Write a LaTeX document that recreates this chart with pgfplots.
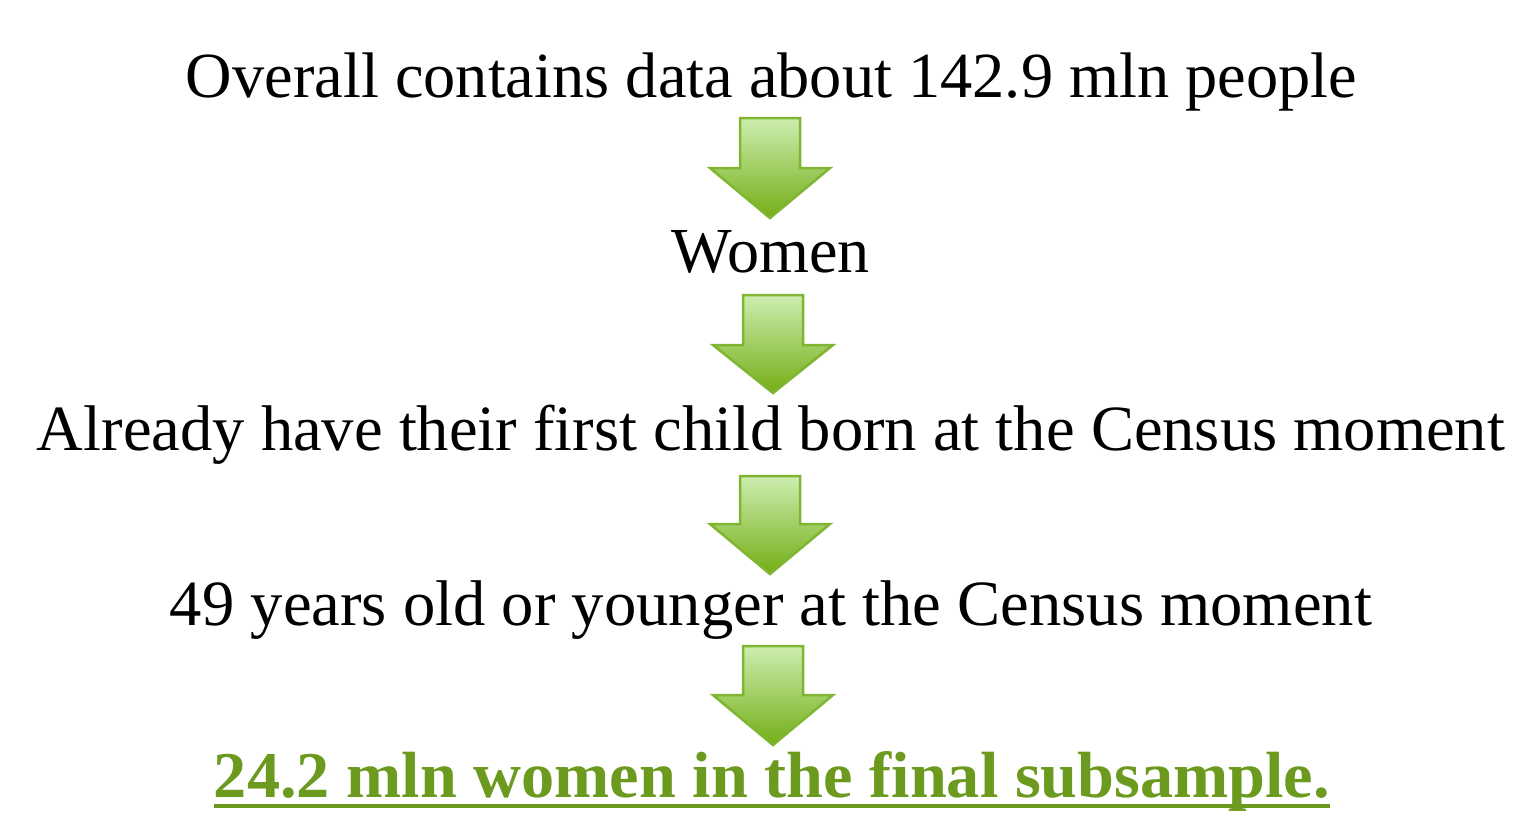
\documentclass[border=0pt]{standalone}
\usepackage{pgfplots}
\pgfplotsset{compat=1.18}
\usepackage{fontspec}
\setmainfont{Liberation Serif}
\usepackage{graphicx}
\usepackage{xcolor}
\definecolor{arrowtop}{HTML}{CDEDB0}
\definecolor{arrowbot}{HTML}{74AE16}
\definecolor{arrowedge}{HTML}{7FB530}
\definecolor{finalgreen}{HTML}{6B9A1F}

% block arrow: centre x, top y, shoulder y, tip y (pixel units, y down)
\newcommand{\flowarrow}[4]{%
  \shade[top color=arrowtop, bottom color=arrowbot, draw=arrowedge, line width=0.25mm, line join=miter]
    (axis cs:#1-30,#2) -- (axis cs:#1+30,#2) -- (axis cs:#1+30,#3) -- (axis cs:#1+60,#3)
    -- (axis cs:#1,#4) -- (axis cs:#1-60,#3) -- (axis cs:#1-30,#3) -- cycle;}

\begin{document}
\begin{tikzpicture}
\begin{axis}[
  width=152.1mm, height=81.2mm, scale only axis,
  xmin=0, xmax=1521, ymin=0, ymax=812, y dir=reverse,
  hide axis, clip=false
]
\path (axis cs:0,0) rectangle (axis cs:1521,812);

\node[anchor=base] at (axis cs:771.5,97) {\resizebox{117.1mm}{!}{Overall contains data about 142.9 mln people}};
\node[anchor=base] at (axis cs:771,272) {\resizebox{19.8mm}{!}{Women}};
\node[anchor=base] at (axis cs:771,450) {\resizebox{146.8mm}{!}{Already have their first child born at the Census moment}};
\node[anchor=base] at (axis cs:771,625) {\resizebox{120.2mm}{!}{49 years old or younger at the Census moment}};
\node[anchor=base, text=finalgreen] at (axis cs:772,797) {\resizebox{111.6mm}{4.6mm}{\bfseries 24.2 mln women in the final subsample.}};
\draw[finalgreen, line width=0.4mm] (axis cs:214,806) -- (axis cs:1330,806);

\flowarrow{770}{118}{168}{218}
\flowarrow{773}{295}{345}{393}
\flowarrow{770}{476}{524}{574}
\flowarrow{773}{646}{695}{745}
\end{axis}
\end{tikzpicture}
\end{document}
